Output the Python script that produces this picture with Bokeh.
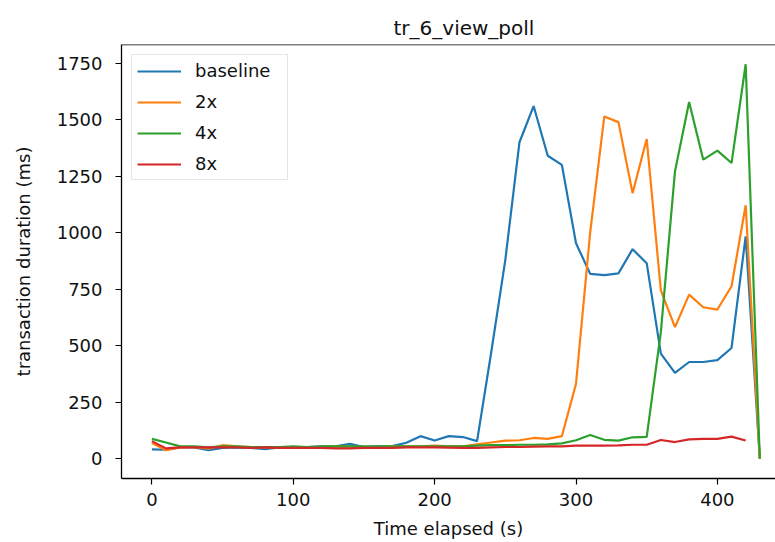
from bokeh.plotting import figure
from bokeh.models import Range1d, FixedTicker, Legend, LegendItem, Span, ColumnDataSource
from bokeh.embed import file_html
from bokeh.resources import INLINE

title_text = "tr_6_view_poll"
x_label = "Time elapsed (s)"
y_label = "transaction duration (ms)"

time_s = [0, 10, 20, 30, 40, 50, 60, 70, 80, 90, 100, 110, 120, 130, 140, 150, 160, 170,
          180, 190, 200, 210, 220, 230, 240, 250, 260, 270, 280, 290, 300, 310, 320, 330,
          340, 350, 360, 370, 380, 390, 400, 410, 420, 430]

baseline = [42, 40, 50, 50, 38, 48, 50, 48, 42, 50, 48, 52, 55, 55, 66, 52, 55, 56,
            71, 100, 81, 100, 96, 78, 470, 880, 1400, 1560, 1340, 1300, 953, 818, 812, 820,
            927, 865, 465, 380, 428, 428, 436, 490, 984, 0]

x2 = [70, 38, 50, 52, 45, 60, 55, 52, 50, 52, 50, 48, 52, 55, 55, 50, 52, 55,
      55, 55, 58, 55, 55, 64, 72, 80, 82, 92, 88, 100, 332, 1000, 1514, 1489,
      1175, 1414, 745, 582, 726, 670, 660, 763, 1121, 0]

x4 = [88, 72, 55, 55, 50, 55, 55, 52, 52, 52, 55, 52, 55, 55, 55, 55, 55, 55,
      55, 55, 55, 55, 55, 58, 60, 60, 62, 62, 64, 68, 82, 105, 84, 80,
      95, 97, 560, 1271, 1578, 1323, 1363, 1308, 1745, 0]

x8 = [78, 46, 50, 50, 50, 50, 50, 48, 50, 48, 48, 48, 48, 46, 46, 48, 48, 48,
      50, 50, 50, 49, 48, 48, 50, 52, 52, 54, 55, 55, 58, 58, 58, 59,
      62, 62, 83, 74, 86, 88, 88, 98, 81]

series_names = ["baseline", "2x", "4x", "8x"]
series_values = [baseline, x2, x4, x8]
colors = ["#1f77b4", "#ff7f0e", "#2ca02c", "#d62728"]

x_ticks = [0, 100, 200, 300, 400]
y_ticks = [0, 250, 500, 750, 1000, 1250, 1500, 1750]

FONT = "DejaVu Sans"
TXT = "#111111"
FS = "18px"

ymin, ymax = 0, max(max(v) for v in series_values)
ypad = 0.05 * (ymax - ymin)
xpad = 0.05 * (max(time_s) - min(time_s))

p = figure(width=775, height=542, output_backend="svg", toolbar_location=None,
           x_range=Range1d(min(time_s) - xpad, 441.1),
           y_range=Range1d(ymin - ypad, ymax + ypad),
           min_border_left=121, min_border_right=0, min_border_top=44, min_border_bottom=64)

p.title.text = title_text
p.title.align = "left"
p.title.offset = 272
p.title.text_font = FONT
p.title.text_font_size = "20px"
p.title.text_font_style = "normal"
p.title.text_color = TXT

p.background_fill_color = "white"
p.border_fill_color = "white"
p.outline_line_color = None
p.xgrid.visible = False
p.ygrid.visible = False

for ax in (p.xaxis[0], p.yaxis[0]):
    ax.axis_line_color = "black"
    ax.axis_line_width = 1.3
    ax.major_tick_line_color = "black"
    ax.major_tick_line_width = 1.2
    ax.major_tick_out = 6
    ax.major_tick_in = 0
    ax.minor_tick_line_color = None
    ax.major_label_text_font = FONT
    ax.major_label_text_font_size = FS
    ax.major_label_text_color = TXT
    ax.axis_label_text_font = FONT
    ax.axis_label_text_font_size = FS
    ax.axis_label_text_font_style = "normal"
    ax.axis_label_text_color = TXT

p.xaxis.ticker = FixedTicker(ticks=x_ticks)
p.yaxis.ticker = FixedTicker(ticks=y_ticks)
p.xaxis.axis_label = x_label
p.yaxis.axis_label = y_label
p.xaxis.major_label_standoff = 8
p.xaxis.axis_label_standoff = 9
p.yaxis.major_label_standoff = 13
p.yaxis.axis_label_standoff = 20

top_line = Span(location=ymax + ypad, dimension="width", line_color="black", line_width=1.3)
p.add_layout(top_line)

items = []
for name, vals, col in zip(series_names, series_values, colors):
    src = ColumnDataSource(data=dict(x=time_s[:len(vals)], y=vals))
    r = p.line("x", "y", source=src, line_color=col, line_width=2.2)
    items.append(LegendItem(label=name, renderers=[r]))

legend = Legend(items=items, location="top_left")
legend.margin = 10
legend.padding = 5
legend.spacing = 10
legend.glyph_width = 44
legend.glyph_height = 20
legend.label_height = 20
legend.label_width = 87
legend.label_standoff = 14
legend.label_text_font = FONT
legend.label_text_font_size = FS
legend.label_text_color = TXT
legend.border_line_color = "#cccccc"
legend.border_line_width = 1
legend.background_fill_color = "white"
legend.background_fill_alpha = 0.8
p.add_layout(legend)

open("out.html", "w").write(file_html(p, INLINE))
